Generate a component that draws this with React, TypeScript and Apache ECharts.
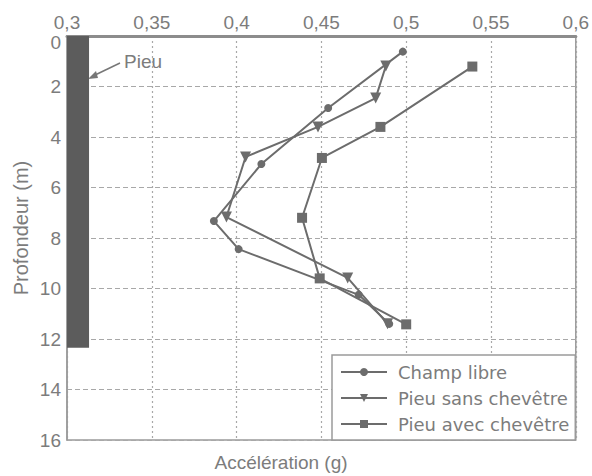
import React, { useEffect, useRef } from "react";
import * as echarts from "echarts";

const xTicks = [0.3, 0.35, 0.4, 0.45, 0.5, 0.55, 0.6];
const depthTicks = [0, 2, 4, 6, 8, 10, 12, 14, 16];

const seriesNames = ["Champ libre", "Pieu sans chevêtre", "Pieu avec chevêtre"];

const champLibreAcc = [0.498, 0.454, 0.4146, 0.3866, 0.4012, 0.472, 0.49];
const champLibreDepth = [0.62, 2.85, 5.07, 7.33, 8.44, 10.25, 11.4];

const pieuSansAcc = [0.488, 0.482, 0.448, 0.4053, 0.394, 0.4655, 0.489];
const pieuSansDepth = [1.19, 2.46, 3.6, 4.79, 7.17, 9.58, 11.4];

const pieuAvecAcc = [0.539, 0.4848, 0.4503, 0.4386, 0.449, 0.5];
const pieuAvecDepth = [1.21, 3.6, 4.83, 7.2, 9.6, 11.42];

const pileAcc = [0.3, 0.313];
const pileDepth = [0, 12.35];

const FONT = "Liberation Sans";
const LEGEND_FONT = "DejaVu Sans";
const TXT = "#7c7c7c";
const LINE = "#6c6c6c";

function pairs(a: number[], d: number[]) {
  return a.map((v, i) => [v, d[i]]);
}

export default function App() {
  const ref = useRef<HTMLDivElement>(null);
  useEffect(() => {
    if (!ref.current) return;
    const chart = echarts.init(ref.current, undefined, { renderer: "svg" });
    const fmt = (v: number) => String(+v.toFixed(2)).replace(".", ",");
    const mk = (name: string, data: number[][], symbol: string, size: number, rotate = 0, z = 5, extra: any = {}) => ({
      type: "line",
      name,
      data,
      symbol,
      symbolSize: size,
      symbolRotate: rotate,
      showSymbol: true,
      lineStyle: { color: LINE, width: 2 },
      itemStyle: { color: LINE, borderWidth: 0 },
      z,
      ...extra,
    });
    chart.setOption({
      animation: false,
      textStyle: { fontFamily: FONT },
      grid: {
        left: 67,
        top: 36,
        width: 513,
        height: 404,
        show: true,
        borderColor: "#9a9a9a",
        borderWidth: 1.5,
        backgroundColor: "transparent",
      },
      xAxis: {
        type: "value",
        position: "top",
        min: xTicks[0],
        max: xTicks[xTicks.length - 1],
        interval: 0.05,
        axisLine: { show: true, lineStyle: { color: "#8c8c8c", width: 3 } },
        axisTick: { show: false },
        axisLabel: {
          formatter: fmt,
          color: TXT,
          fontSize: 19,
          fontFamily: FONT,
          margin: 4,
        },
        splitLine: { show: true, lineStyle: { color: "#a8a8a8", type: [2, 3], width: 1.2 } },
      },
      yAxis: {
        type: "value",
        inverse: true,
        min: depthTicks[0],
        max: depthTicks[depthTicks.length - 1],
        interval: 2,
        axisLine: { show: true, lineStyle: { color: "#9a9a9a", width: 1.5 } },
        axisTick: { show: false },
        axisLabel: {
          color: TXT,
          fontSize: 19,
          fontFamily: FONT,
          margin: 6,
          formatter: (v: number) => (v === 0 ? "{first|0}" : String(v)),
          rich: {
            first: { color: TXT, fontSize: 19, fontFamily: FONT, padding: [12, 0, 0, 0] },
          },
        },
        splitLine: { show: true, lineStyle: { color: "#a8a8a8", type: [5, 3], width: 1.2 } },
      },
      legend: {
        orient: "vertical",
        left: 332,
        top: 355,
        data: seriesNames,
        itemWidth: 46,
        itemHeight: 10,
        itemGap: 8,
        padding: [8, 6, 7, 8],
        borderColor: "#9a9a9a",
        borderWidth: 1.5,
        backgroundColor: "#fff",
        textStyle: {
          color: TXT,
          fontSize: 18,
          fontFamily: LEGEND_FONT,
          lineHeight: 18,
          padding: [0, 0, 0, 6],
        },
        z: 10,
      },
      series: [
        mk(seriesNames[0], pairs(champLibreAcc, champLibreDepth), "circle", 8, 0, 4, {
          markArea: {
            silent: true,
            itemStyle: { color: "#5c5c5c" },
            data: [[{ coord: [pileAcc[0], pileDepth[0]] }, { coord: [pileAcc[1], pileDepth[1]] }]],
          },
        }),
        mk(seriesNames[1], pairs(pieuSansAcc, pieuSansDepth), "triangle", 11, 180, 6),
        mk(seriesNames[2], pairs(pieuAvecAcc, pieuAvecDepth), "rect", 10, 0, 5),
      ],
      graphic: [
        {
          type: "text",
          left: 124,
          top: 52,
          style: { text: "Pieu", fill: TXT, font: `19px "${FONT}"` },
        },
        {
          type: "line",
          shape: { x1: 120, y1: 63, x2: 93, y2: 76 },
          style: { stroke: "#777", lineWidth: 1.5 },
        },
        {
          type: "polygon",
          shape: { points: [[88, 79], [96, 71], [98, 78]] },
          style: { fill: "#777" },
        },
        {
          type: "text",
          x: 281,
          y: 462,
          style: {
            text: "Accélération (g)",
            fill: TXT,
            font: `19px "${FONT}"`,
            align: "center",
            verticalAlign: "middle",
          },
        },
        {
          type: "text",
          x: 21,
          y: 228,
          rotation: Math.PI / 2,
          style: {
            text: "Profondeur (m)",
            fill: TXT,
            font: `20px "${FONT}"`,
            align: "center",
            verticalAlign: "middle",
          },
        },
      ],
    });
    return () => chart.dispose();
  }, []);
  return (
    <div
      ref={ref}
      style={{ position: "fixed", left: 0, top: 0, width: 592, height: 476, background: "#fff" }}
    />
  );
}
